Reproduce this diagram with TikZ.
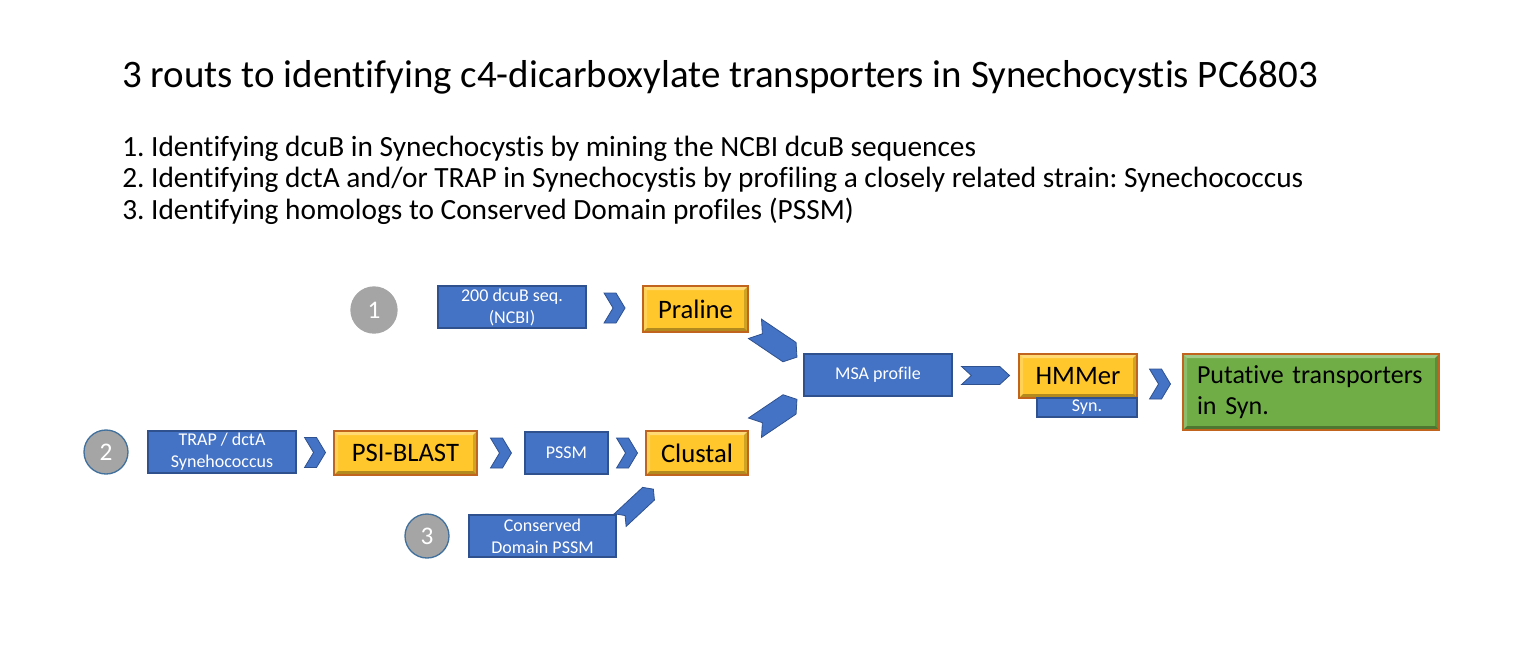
\documentclass[tikz,border=0pt]{standalone}
\usepackage{fontspec}
\setmainfont{Carlito}[Ligatures=NoCommon]
\frenchspacing
\usetikzlibrary{shapes.symbols}
\definecolor{blueF}{HTML}{4472C4}
\definecolor{blueD}{HTML}{2F528F}
\definecolor{goldF}{HTML}{FFC72C}
\definecolor{orangeD}{HTML}{C0641E}
\definecolor{greenF}{HTML}{70AD47}
\definecolor{grayC}{HTML}{A5A5A5}
\definecolor{grayD}{HTML}{41719C}

\begin{document}
\begin{tikzpicture}[x=0.75pt,y=-0.75pt,
    bevel/.style={path picture={
        \fill[white,opacity=.35] (path picture bounding box.north west) -- (path picture bounding box.north east) -- ([shift={(-3pt,-3pt)}]path picture bounding box.north east) -- ([shift={(3pt,-3pt)}]path picture bounding box.north west) -- cycle;
        \fill[white,opacity=.2] (path picture bounding box.north west) -- (path picture bounding box.south west) -- ([shift={(3pt,3pt)}]path picture bounding box.south west) -- ([shift={(3pt,-3pt)}]path picture bounding box.north west) -- cycle;
        \fill[black,opacity=.3] (path picture bounding box.south west) -- (path picture bounding box.south east) -- ([shift={(-3pt,3pt)}]path picture bounding box.south east) -- ([shift={(3pt,3pt)}]path picture bounding box.south west) -- cycle;
        \fill[black,opacity=.18] (path picture bounding box.north east) -- (path picture bounding box.south east) -- ([shift={(-3pt,3pt)}]path picture bounding box.south east) -- ([shift={(-3pt,-3pt)}]path picture bounding box.north east) -- cycle;
    }},
    blueBox/.style={rectangle,draw=blueD,fill=blueF,line width=1.1pt,text=white,align=center,inner sep=1pt,minimum width=111pt,minimum height=31.5pt,font=\fontsize{13.5}{16.5}\selectfont},
    goldBox/.style={rectangle,draw=orangeD,fill=goldF,line width=1pt,bevel,inner sep=1pt,minimum height=33pt,font=\fontsize{20}{23}\selectfont},
    greenBox/.style={rectangle,draw=orangeD,fill=greenF,line width=1pt,bevel,align=left,inner sep=1pt,font=\fontsize{19.5}{23.5}\selectfont},
    numCircle/.style={circle,draw=grayD,fill=grayC,line width=1pt,text=white,inner sep=0pt,minimum size=33pt,font=\fontsize{19}{22}\selectfont},
    chevron/.style={signal,signal from=west,signal to=east,signal pointer angle=118,draw=blueD,fill=blueF,line width=0.6pt,inner sep=0pt,minimum width=15.75pt,minimum height=22.5pt},
    chevronWide/.style={chevron,signal pointer angle=85,minimum width=36pt,minimum height=13.5pt},
    chevronDiag/.style={chevron,signal pointer angle=105,minimum width=38pt,minimum height=17.5pt},
]

    \useasboundingbox (0,0) rectangle (1514,662);

    % heading and list
    \node[anchor=base west,inner sep=0pt,font=\fontsize{29.2}{33}\selectfont](title) at(122,87){3 routs to identifying c4-dicarboxylate transporters in Synechocystis PC6803};
    \node[anchor=base west,inner sep=0pt,font=\fontsize{22}{25}\selectfont](item1) at(122,156){1. Identifying dcuB in Synechocystis by mining the NCBI dcuB sequences};
    \node[anchor=base west,inner sep=0pt,font=\fontsize{22}{25}\selectfont](item2) at(122,187){2. Identifying dctA and/or TRAP in Synechocystis by profiling a closely related strain: Synechococcus};
    \node[anchor=base west,inner sep=0pt,font=\fontsize{22}{25}\selectfont](item3) at(122,219){3. Identifying homologs to Conserved Domain profiles (PSSM)};

    % route 1
    \node[numCircle,draw=grayC,minimum size=34.5pt](n1) at(374,310){1};
    \node[blueBox](dcub) at(512,307){200 dcuB seq.\\(NCBI)};
    \node[goldBox,minimum width=78.75pt,minimum height=34.5pt](praline) at(695.5,309){Praline};

    % route 2
    \node[numCircle](n2) at(106,452){2};
    \node[blueBox](trap) at(222,452){TRAP / dctA\\Synehococcus};
    \node[goldBox,minimum width=107.25pt](psiblast) at(405.5,453){PSI-BLAST};
    \node[blueBox,minimum width=62.25pt](pssm) at(566.5,453){PSSM};
    \node[goldBox,minimum width=76.5pt](clustal) at(697,453){Clustal};

    % route 3
    \node[numCircle](n3) at(427,536){3};
    \node[blueBox,minimum width=110.25pt](cdd) at(542.5,536){Conserved\\Domain PSSM};

    % common part
    \node[blueBox](msa) at(878,375){MSA profile};
    \node[goldBox,minimum width=88.5pt](hmmer) at(1078,376){HMMer};
    \node[blueBox,minimum width=75pt,minimum height=14.25pt](syn) at(1087,407.5){Syn.};
    \node[greenBox,minimum width=192pt,minimum height=57pt,text width=171pt](putative) at(1311,392){Putative transporters\\in Syn.};

    \path(dcub.east)--node[chevron]{}(praline.west);
    \path(trap.east)--node[chevron]{}(psiblast.west);
    \path(psiblast.east)--node[chevron]{}(pssm.west);
    \path(pssm.east)--node[chevron]{}(clustal.west);
    \path(praline.south east)--node[chevronDiag,rotate=-34]{}(msa.north west);
    \path(clustal.north east)--node[chevronDiag,rotate=34]{}(msa.south west);
    \path(cdd.north east)--node[pos=0.25,chevronDiag,minimum width=34pt,minimum height=13pt,rotate=43]{}(clustal.south);
    \path(msa.east)--node[chevronWide]{}(hmmer.west);
    \path(hmmer.east)--node[chevron]{}(putative.west);

\end{tikzpicture}
\end{document}
